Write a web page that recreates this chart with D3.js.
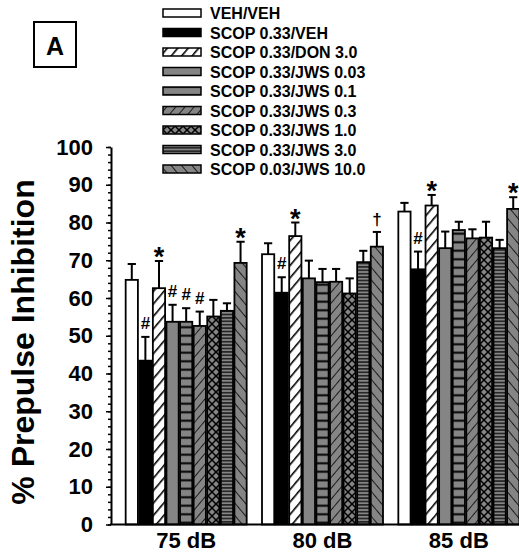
<!DOCTYPE html>
<html>
<head>
<meta charset="utf-8">
<script src="https://cdn.jsdelivr.net/npm/d3@7"></script>
<style>
  body { margin: 0; background: #fff; }
  svg { display: block; font-family: "Liberation Sans", Arial, sans-serif; font-weight: bold; }
  text { fill: #000; }
</style>
</head>
<body>
<svg id="chart" width="519" height="552"></svg>
<script>
// groups (prepulse intensity) and treatments
const groups = ["75 dB", "80 dB", "85 dB"];
const treatments = [
  "VEH/VEH", "SCOP 0.33/VEH", "SCOP 0.33/DON 3.0", "SCOP 0.33/JWS 0.03",
  "SCOP 0.33/JWS 0.1", "SCOP 0.33/JWS 0.3", "SCOP 0.33/JWS 1.0",
  "SCOP 0.33/JWS 3.0", "SCOP 0.03/JWS 10.0"
];

// mean %PPI, one row per group, in treatment order
const means75 = [64.8, 43.4, 62.6, 53.7, 53.7, 52.6, 55.1, 56.6, 69.3];
const means80 = [71.6, 61.4, 76.4, 65.2, 64.2, 64.3, 61.2, 69.5, 73.6];
const means85 = [82.9, 67.6, 84.5, 73.2, 78.0, 75.8, 76.0, 73.2, 83.6];
// SEM (upper error bar only)
const sem75 = [4.2, 6.3, 7.2, 4.5, 3.6, 3.8, 4.4, 2.0, 5.6];
const sem80 = [2.9, 4.1, 3.6, 4.7, 3.5, 3.4, 4.0, 3.0, 3.9];
const sem85 = [2.3, 4.7, 2.8, 4.4, 2.2, 2.4, 4.2, 2.2, 3.1];
// significance marks ("" = none)
const marks75 = ["", "#", "*", "#", "#", "#", "", "", "*"];
const marks80 = ["", "#", "*", "", "", "", "", "", "\u2020"];
const marks85 = ["", "#", "*", "", "", "", "", "", "*"];

const yTicks = d3.range(0, 101, 10);

const meanRows = [means75, means80, means85];
const semRows = [sem75, sem80, sem85];
const markRows = [marks75, marks80, marks85];

const svg = d3.select("#chart");
const defs = svg.append("defs");
const gray = "#858585";

// hatch patterns
function diag(id, bg, angle, gap, sw) {
  const p = defs.append("pattern").attr("id", id)
    .attr("patternUnits", "userSpaceOnUse")
    .attr("width", gap).attr("height", gap)
    .attr("patternTransform", `rotate(${angle})`);
  p.append("rect").attr("width", gap).attr("height", gap).attr("fill", bg);
  p.append("line").attr("x1", 0).attr("y1", 0).attr("x2", 0).attr("y2", gap)
    .attr("stroke", "#000").attr("stroke-width", sw);
}
function horiz(id, gap, sw) {
  const p = defs.append("pattern").attr("id", id)
    .attr("patternUnits", "userSpaceOnUse")
    .attr("width", 10).attr("height", gap);
  p.append("rect").attr("width", 10).attr("height", gap).attr("fill", gray);
  p.append("line").attr("x1", 0).attr("y1", gap / 2).attr("x2", 10).attr("y2", gap / 2)
    .attr("stroke", "#000").attr("stroke-width", sw);
}
diag("don", "#fff", 40, 8, 3.2);
horiz("j01", 8.5, 2);
diag("j03", gray, 40, 7, 1.6);
diag("j10", gray, -40, 8, 1.6);
horiz("j30", 3.4, 1.2);
(function () {
  const p = defs.append("pattern").attr("id", "cross")
    .attr("patternUnits", "userSpaceOnUse").attr("width", 8).attr("height", 8);
  p.append("rect").attr("width", 8).attr("height", 8).attr("fill", gray);
  p.append("path").attr("d", "M0,0L8,8M8,0L0,8").attr("stroke", "#000").attr("stroke-width", 1.5);
})();

const fills = ["#fff", "#000", "url(#don)", gray, "url(#j01)", "url(#j03)", "url(#cross)", "url(#j30)", "url(#j10)"];

const y = d3.scaleLinear([0, 100], [524.5, 147]);
const x0 = d3.scaleBand(groups, [118, 527]);
const inner = 121;
const x1 = d3.scaleBand(treatments, [0, inner]).paddingInner(0.1);
const axisX = 111;

// bars
const data = [];
groups.forEach((g, gi) => treatments.forEach((t, ti) => data.push({
  g, t, ti, mean: meanRows[gi][ti], sem: semRows[gi][ti], mark: markRows[gi][ti]
})));
const bx = d => x0(d.g) + (x0.bandwidth() - inner) / 2 + x1(d.t);

const bars = svg.append("g");
bars.selectAll("rect").data(data).join("rect")
  .attr("x", bx)
  .attr("y", d => y(d.mean))
  .attr("width", x1.bandwidth())
  .attr("height", d => y(0) - y(d.mean))
  .attr("fill", d => fills[d.ti])
  .attr("stroke", "#000").attr("stroke-width", 1.8);

// error bars (upper)
const eb = svg.append("g").attr("stroke", "#000").attr("stroke-width", 2);
eb.selectAll("line.v").data(data).join("line").attr("class", "v")
  .attr("x1", d => bx(d) + x1.bandwidth() / 2).attr("x2", d => bx(d) + x1.bandwidth() / 2)
  .attr("y1", d => y(d.mean)).attr("y2", d => y(d.mean + d.sem));
eb.selectAll("line.c").data(data).join("line").attr("class", "c")
  .attr("x1", d => bx(d) + 2).attr("x2", d => bx(d) + x1.bandwidth() - 2)
  .attr("y1", d => y(d.mean + d.sem)).attr("y2", d => y(d.mean + d.sem));

// significance marks
svg.append("g").selectAll("text").data(data.filter(d => d.mark)).join("text")
  .attr("x", d => bx(d) + x1.bandwidth() / 2)
  .attr("y", d => y(d.mean + d.sem) + (d.mark === "*" ? 5 : d.mark === "#" ? -8 : -7))
  .attr("text-anchor", "middle")
  .attr("font-size", d => d.mark === "*" ? 27 : 17)
  .text(d => d.mark);

// y axis
const yMinor = svg.append("g").attr("transform", `translate(${axisX},0)`)
  .call(d3.axisLeft(y).tickValues(d3.range(0, 101, 2)).tickSize(3).tickFormat(""));
yMinor.select(".domain").remove();
yMinor.selectAll("line").attr("stroke-width", 1.5);
const yAxis = svg.append("g").attr("transform", `translate(${axisX},0)`)
  .call(d3.axisLeft(y).tickValues(yTicks).tickSize(5).tickSizeOuter(0).tickPadding(13));
yAxis.select(".domain").attr("stroke-width", 2);
yAxis.selectAll("line").attr("stroke-width", 1.5);
yAxis.selectAll("text").attr("font-size", 22).attr("font-family", "Liberation Sans, Arial, sans-serif")
  .attr("font-weight", "bold").attr("fill", "#000");

// x axis
svg.append("line").attr("x1", axisX - 1).attr("x2", 519)
  .attr("y1", y(0)).attr("y2", y(0)).attr("stroke", "#000").attr("stroke-width", 2);
svg.append("g").selectAll("text").data(groups).join("text")
  .attr("x", d => x0(d) + x0.bandwidth() / 2)
  .attr("y", 548)
  .attr("text-anchor", "middle").attr("font-size", 22)
  .text(d => d);

// y title
svg.append("text")
  .attr("transform", "translate(34,342) rotate(-90)")
  .attr("text-anchor", "middle").attr("font-size", 32)
  .text("% Prepulse Inhibition");

// panel letter
svg.append("rect").attr("x", 34).attr("y", 22).attr("width", 42).attr("height", 45)
  .attr("fill", "none").attr("stroke", "#000").attr("stroke-width", 2);
svg.append("text").attr("x", 55).attr("y", 55).attr("text-anchor", "middle")
  .attr("font-size", 25).text("A");

// legend
const leg = svg.append("g").selectAll("g").data(treatments).join("g")
  .attr("transform", (d, i) => `translate(163,${13 + i * 19.5})`);
leg.append("rect").attr("x", 0).attr("y", -4).attr("width", 38).attr("height", 8)
  .attr("fill", (d, i) => fills[i]).attr("stroke", "#000").attr("stroke-width", 1.5);
leg.append("text").attr("x", 47).attr("y", 6).attr("font-size", 16).text(d => d);
</script>
</body>
</html>
